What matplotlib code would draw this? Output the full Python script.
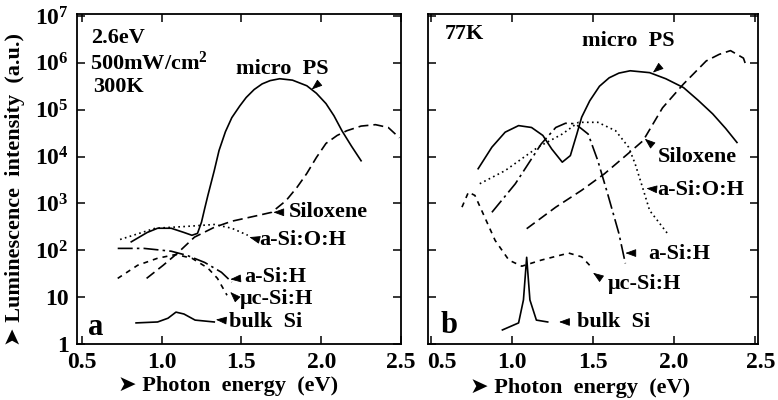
import numpy as np
import matplotlib
matplotlib.use("Agg")
import matplotlib.pyplot as plt
from matplotlib.transforms import ScaledTranslation

plt.rcParams['font.family'] = ['Liberation Serif', 'DejaVu Sans']
plt.rcParams['font.weight'] = 'bold'
plt.rcParams['mathtext.fontset'] = 'custom'
plt.rcParams['mathtext.rm'] = 'Liberation Serif:bold'
plt.rcParams['mathtext.it'] = 'Liberation Serif:bold'
plt.rcParams['mathtext.bf'] = 'Liberation Serif:bold'

# ---------------- data: panel a (300 K), log10 intensity ----------------
a_ps_x = [0.81, 0.91, 0.975, 1.06, 1.14, 1.19, 1.225, 1.25, 1.27, 1.29, 1.33, 1.36, 1.40, 1.44, 1.49, 1.53, 1.58, 1.63, 1.68, 1.74, 1.82, 1.91, 1.97, 2.03, 2.08, 2.13, 2.19, 2.25]
a_ps_y = [2.18, 2.38, 2.47, 2.47, 2.38, 2.32, 2.36, 2.60, 2.89, 3.17, 3.70, 4.13, 4.53, 4.83, 5.08, 5.26, 5.43, 5.55, 5.62, 5.66, 5.63, 5.51, 5.35, 5.13, 4.87, 4.55, 4.22, 3.91]
a_sil_x = [0.906, 1.01, 1.10, 1.206, 1.33, 1.44, 1.60, 1.69, 1.78, 1.85, 1.91, 1.97, 2.03, 2.10, 2.16, 2.25, 2.34, 2.42, 2.49]
a_sil_y = [1.40, 1.68, 1.94, 2.28, 2.49, 2.62, 2.74, 2.81, 3.06, 3.35, 3.64, 3.98, 4.28, 4.45, 4.55, 4.65, 4.68, 4.62, 4.40]
a_soh_x = [0.74, 0.96, 1.16, 1.33, 1.44, 1.54]
a_soh_y = [2.23, 2.47, 2.51, 2.55, 2.47, 2.32]
a_sih_x = [0.725, 0.89, 1.06, 1.16, 1.27, 1.375, 1.44]
a_sih_y = [2.04, 2.04, 1.98, 1.89, 1.74, 1.53, 1.32]
a_muc_x = [0.725, 0.85, 0.975, 1.09, 1.19, 1.29, 1.35, 1.41]
a_muc_y = [1.40, 1.68, 1.83, 1.91, 1.83, 1.62, 1.40, 1.04]
a_bulk_x = [0.84, 0.975, 1.04, 1.09, 1.14, 1.21, 1.33]
a_bulk_y = [0.45, 0.47, 0.55, 0.68, 0.64, 0.51, 0.47]

# ---------------- data: panel b (77 K), log10 intensity ----------------
b_ps_x = [0.79, 0.875, 0.957, 1.04, 1.12, 1.19, 1.245, 1.31, 1.36, 1.40, 1.43, 1.48, 1.54, 1.60, 1.66, 1.73, 1.85, 1.95, 2.06, 2.15, 2.24, 2.32, 2.39]
b_ps_y = [3.74, 4.20, 4.52, 4.66, 4.62, 4.45, 4.16, 3.88, 4.02, 4.48, 4.84, 5.19, 5.50, 5.68, 5.78, 5.83, 5.79, 5.66, 5.47, 5.20, 4.91, 4.60, 4.30]
b_sil_x = [1.09, 1.27, 1.43, 1.57, 1.74, 1.81, 1.93, 2.06, 2.20, 2.28, 2.35, 2.43, 2.45]
b_sil_y = [2.46, 2.92, 3.28, 3.63, 4.13, 4.34, 5.04, 5.55, 6.04, 6.18, 6.26, 6.10, 5.90]
b_soh_x = [0.80, 0.957, 1.16, 1.31, 1.41, 1.53, 1.64, 1.72, 1.76, 1.81, 1.85, 1.96]
b_soh_y = [3.42, 3.70, 4.20, 4.48, 4.73, 4.73, 4.55, 4.20, 3.85, 3.30, 2.85, 2.36]
b_sih_x = [0.875, 1.02, 1.18, 1.27, 1.33, 1.39, 1.47, 1.53, 1.59, 1.66, 1.70]
b_sih_y = [2.81, 3.42, 4.27, 4.62, 4.71, 4.70, 4.48, 3.91, 3.21, 2.36, 1.72]
b_muc_x = [0.69, 0.73, 0.77, 0.83, 0.895, 0.98, 1.06, 1.18, 1.35, 1.43, 1.49]
b_muc_y = [2.92, 3.24, 3.17, 2.71, 2.21, 1.79, 1.66, 1.79, 1.94, 1.86, 1.64]
b_bulk_x = [0.94, 1.04, 1.07, 1.09, 1.11, 1.15, 1.22]
b_bulk_y = [0.30, 0.45, 0.94, 1.85, 0.94, 0.51, 0.47]

xticks = [0.5, 1.0, 1.5, 2.0, 2.5]
xticklabels = ['0.5', '1.0', '1.5', '2.0', '2.5']
yticks = [1, 10, 1e2, 1e3, 1e4, 1e5, 1e6, 1e7]
yticklabels = ['1', '10', r'$10^{2}$', r'$10^{3}$', r'$10^{4}$', r'$10^{5}$', r'$10^{6}$', r'$10^{7}$']

styles = {
    'ps': dict(ls='-'),
    'sil': dict(ls=(0, (6, 3))),
    'soh': dict(ls=(0, (1, 2))),
    'sih': dict(ls=(0, (9, 2.5, 1.5, 2.5))),
    'muc': dict(ls=(0, (3, 3))),
    'bulk': dict(ls='-'),
}

fig = plt.figure(figsize=(7.78, 4.0), dpi=100)
axa = fig.add_axes([77/778, 1-344/400, (401-77)/778, (344-14)/400])
axb = fig.add_axes([428/778, 1-344/400, (758-428)/778, (344-14)/400])

def curve(ax, xs, ys, key):
    ax.plot(xs, [10**v for v in ys], color='black', lw=1.2, **styles[key])

for key, xs, ys in [('ps', a_ps_x, a_ps_y), ('sil', a_sil_x, a_sil_y), ('soh', a_soh_x, a_soh_y),
                    ('sih', a_sih_x, a_sih_y), ('muc', a_muc_x, a_muc_y), ('bulk', a_bulk_x, a_bulk_y)]:
    curve(axa, xs, ys, key)
for key, xs, ys in [('ps', b_ps_x, b_ps_y), ('sil', b_sil_x, b_sil_y), ('soh', b_soh_x, b_soh_y),
                    ('sih', b_sih_x, b_sih_y), ('muc', b_muc_x, b_muc_y), ('bulk', b_bulk_x, b_bulk_y)]:
    curve(axb, xs, ys, key)

for ax, xl in [(axa, (0.47, 2.5)), (axb, (0.48, 2.52))]:
    ax.set_yscale('log')
    ax.set_xlim(*xl)
    ax.set_ylim(1, 1.1e7)
    ax.set_xticks(xticks)
    ax.set_xticklabels(xticklabels, fontsize=17, fontweight='bold')
    ax.set_yticks(yticks)
    ax.minorticks_off()
    ax.tick_params(direction='in', length=6, width=1.1, top=True, right=True, pad=6)
    for s in ax.spines.values():
        s.set_linewidth(1.3)
axa.set_yticklabels(yticklabels, fontsize=17)
axb.set_yticklabels([])

# edge labels of panel b sit a little to the right of their ticks
labs = axb.get_xticklabels()
labs[0].set_transform(labs[0].get_transform() + ScaledTranslation(8/72, 0, fig.dpi_scale_trans))
labs[-1].set_transform(labs[-1].get_transform() + ScaledTranslation(4/72, 0, fig.dpi_scale_trans))

def lab(ax, text, x, ly, tip=None, ang=0, size=16, ha='left'):
    ax.text(x, 10**ly, text, fontsize=size, fontweight='bold', ha=ha, va='center')
    if tip is not None:
        tx, tly = tip
        d = 7
        ax.annotate('', xy=(tx, 10**tly), xytext=(d*np.cos(np.radians(ang)), d*np.sin(np.radians(ang))),
                    textcoords='offset points',
                    arrowprops=dict(arrowstyle='-|>,head_length=0.6,head_width=0.22', color='black',
                                    lw=0.6, shrinkA=0, shrinkB=0, mutation_scale=11))

lab(axa, '2.6eV', 0.56, 6.53)
lab(axa, r'500mW/cm$^{2}$', 0.55, 6.0)
lab(axa, '300K', 0.57, 5.49)
lab(axa, 'micro  PS', 1.756, 5.87, tip=(1.94, 5.43), ang=40, ha='center')
lab(axa, 'Siloxene', 1.80, 2.81, tip=(1.70, 2.81), ang=0)
lab(axa, 'a-Si:O:H', 1.61, 2.21, tip=(1.55, 2.28), ang=-15)
lab(axa, 'a-Si:H', 1.52, 1.43, tip=(1.43, 1.38), ang=5)
lab(axa, 'μc-Si:H', 1.49, 0.96, tip=(1.43, 1.11), ang=-45)
lab(axa, 'bulk  Si', 1.425, 0.47, tip=(1.34, 0.52), ang=-5)
lab(axa, 'a', 0.54, 0.36, size=22)

lab(axb, '77K', 0.586, 6.62)
lab(axb, 'micro  PS', 1.716, 6.47, tip=(1.87, 5.79), ang=40, ha='center')
lab(axb, 'Siloxene', 1.90, 4.0, tip=(1.82, 4.38), ang=-40)
lab(axb, 'a-Si:O:H', 1.895, 3.28, tip=(1.83, 3.32), ang=-5)
lab(axb, 'a-Si:H', 1.84, 1.91, tip=(1.70, 1.94), ang=0)
lab(axb, 'μc-Si:H', 1.59, 1.28, tip=(1.50, 1.52), ang=-35)
lab(axb, 'bulk  Si', 1.40, 0.47, tip=(1.29, 0.47), ang=0)
lab(axb, 'b', 0.555, 0.40, size=22)

fig.text(228/778, 1-386/400, '➤ Photon  energy  (eV)', fontsize=16, fontweight='bold', ha='center', va='center')
fig.text(580/778, 1-388/400, '➤ Photon  energy  (eV)', fontsize=16, fontweight='bold', ha='center', va='center')
fig.text(15/778, 1-189/400, '➤ Luminescence  intensity  (a.u.)', fontsize=16, fontweight='bold',
         ha='center', va='center', rotation=90)

fig.savefig('out.png', dpi=100)
